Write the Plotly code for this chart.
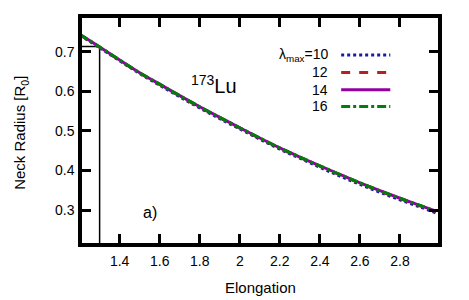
import plotly.graph_objects as go

elong = [1.2, 1.3, 1.4, 1.5, 1.6, 1.7, 1.8, 1.9, 2.0, 2.1, 2.2, 2.3, 2.4, 2.5, 2.6, 2.7, 2.8, 2.9, 2.98]
r_l10 = [0.742, 0.710, 0.677, 0.645, 0.615, 0.586, 0.558, 0.531, 0.505, 0.479, 0.454, 0.431, 0.408, 0.386, 0.365, 0.345, 0.326, 0.308, 0.293]
r_l12 = [0.743, 0.711, 0.678, 0.646, 0.617, 0.588, 0.560, 0.533, 0.507, 0.481, 0.456, 0.433, 0.411, 0.389, 0.368, 0.348, 0.329, 0.311, 0.296]
r_l14 = [0.744, 0.712, 0.679, 0.647, 0.618, 0.589, 0.561, 0.534, 0.508, 0.482, 0.457, 0.434, 0.412, 0.390, 0.369, 0.349, 0.330, 0.312, 0.297]
r_l16 = [0.744, 0.712, 0.679, 0.647, 0.618, 0.589, 0.561, 0.534, 0.508, 0.482, 0.457, 0.434, 0.412, 0.390, 0.369, 0.349, 0.330, 0.312, 0.297]

marker_x = [1.212, 1.3, 1.3]
marker_y = [0.713, 0.713, 0.217]

legend_labels = ["λ<sub>max</sub>=10", "12", "14", "16"]
colors = ["#1a1aa6", "#b22222", "#9400a0", "#00800a"]
dashes = ["dot", "dash", "solid", "dashdot"]
series = [r_l10, r_l12, r_l14, r_l16]

fig = go.Figure()
fig.add_trace(go.Scatter(x=marker_x, y=marker_y, mode="lines",
                         line=dict(color="black", width=1.5), showlegend=False))
for ys, c, d in zip(series, colors, dashes):
    fig.add_trace(go.Scatter(x=elong, y=ys, mode="lines", line_shape="spline",
                             line=dict(color=c, width=3, dash=d), showlegend=False))

# legend drawn manually (text to the left of samples)
leg_y = [0.836, 0.758, 0.681, 0.607]
for lab, c, d, yy in zip(legend_labels, colors, dashes, leg_y):
    fig.add_annotation(x=0.697, y=yy, xref="paper", yref="paper", text=lab,
                       showarrow=False, xanchor="right", yanchor="middle",
                       font=dict(size=14, color="black"))
    fig.add_shape(type="line", xref="paper", yref="paper",
                  x0=0.728, x1=0.866, y0=yy, y1=yy,
                  line=dict(color=c, width=3, dash=d))

fig.add_annotation(x=0.30, y=0.64, xref="paper", yref="paper",
                   text="<sup>173</sup>Lu", showarrow=False, xanchor="left",
                   yanchor="bottom", font=dict(size=20, color="black"))
fig.add_annotation(x=0.165, y=0.135, xref="paper", yref="paper",
                   text="a)", showarrow=False, xanchor="left", yanchor="middle",
                   font=dict(size=16, color="black"))

# axis titles
fig.add_annotation(x=0.5, y=-0.196, xref="paper", yref="paper", text="Elongation",
                   showarrow=False, xanchor="center", yanchor="middle",
                   font=dict(size=15, color="black"))
fig.add_annotation(x=-0.171, y=0.49, xref="paper", yref="paper",
                   text="Neck Radius [R<sub>0</sub>]", textangle=-90,
                   showarrow=False, xanchor="center", yanchor="middle",
                   font=dict(size=15, color="black"))

axis_common = dict(showgrid=False, zeroline=False, showline=True, linecolor="black",
                   linewidth=3.5, mirror="allticks", ticks="inside", ticklen=9,
                   tickwidth=3, tickcolor="black", automargin=False,
                   tickfont=dict(size=14, color="black"))
fig.update_xaxes(range=[1.212, 2.99], tickvals=[1.4, 1.6, 1.8, 2.0, 2.2, 2.4, 2.6, 2.8],
                 ticktext=["1.4", "1.6", "1.8", "2", "2.2", "2.4", "2.6", "2.8"],
                 ticklabelstandoff=2, **axis_common)
fig.update_yaxes(range=[0.217, 0.785], tickvals=[0.3, 0.4, 0.5, 0.6, 0.7],
                 ticklabelstandoff=1, **axis_common)
# page body adds an 8px margin; figure offset to compensate
fig.update_layout(width=461, height=292, margin=dict(l=74, r=31, t=10, b=57, autoexpand=False),
                  plot_bgcolor="white", paper_bgcolor="white",
                  font=dict(family="Liberation Sans, Arial, sans-serif", color="black"))
fig.write_html("out.html")
